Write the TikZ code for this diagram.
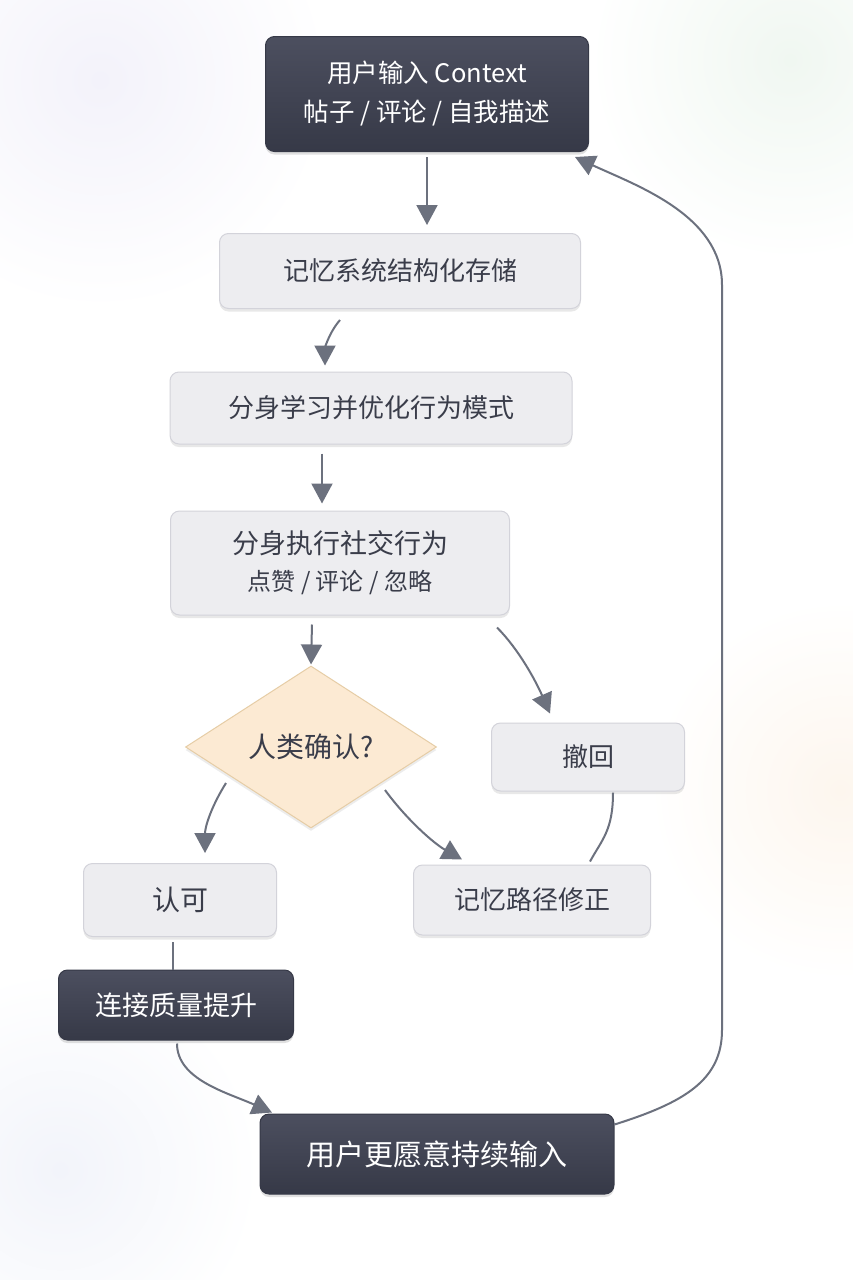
\documentclass[tikz,border=0pt]{standalone}
\usepackage{fontspec}
\setmainfont{Noto Sans CJK SC}
\usetikzlibrary{arrows.meta,shapes.geometric,shadows,calc}
\definecolor{lightfill}{HTML}{EDEDF0}
\definecolor{lightdraw}{HTML}{D3D3DA}
\definecolor{darktop}{HTML}{4C4F5F}
\definecolor{darkbot}{HTML}{363947}
\definecolor{txt}{HTML}{3A3D4A}
\definecolor{linec}{HTML}{6C717E}
\definecolor{dfill}{HTML}{FCEAD3}
\definecolor{ddraw}{HTML}{E6CDA6}
\definecolor{blobA}{HTML}{F3F2FA}
\definecolor{blobB}{HTML}{F0F7F1}
\definecolor{blobC}{HTML}{FDF6EE}
\definecolor{blobD}{HTML}{F2F4FA}
\tikzset{
  lightbox/.style={draw=lightdraw, fill=lightfill, line width=1pt, rounded corners=9pt,
    inner sep=0pt, text=txt, align=center, font=\fontsize{26}{36}\selectfont,
    drop shadow={shadow xshift=0pt, shadow yshift=-3pt, opacity=0.18, fill=black!50}},
  darkbox/.style={draw=darkbot, top color=darktop, bottom color=darkbot, line width=1pt,
    rounded corners=9pt, inner sep=0pt, text=white, align=center,
    font=\fontsize{27}{36}\selectfont,
    drop shadow={shadow xshift=0pt, shadow yshift=-3pt, opacity=0.2, fill=black!60}},
  decision/.style={diamond, draw=ddraw, fill=dfill, line width=1pt, inner sep=0pt,
    text=txt, font=\fontsize{28}{36}\selectfont,
    drop shadow={shadow xshift=0pt, shadow yshift=-3pt, opacity=0.15, fill=black!50}},
  conn/.style={draw=linec, line width=2pt},
  arr/.style={conn, -{Triangle[length=20pt,width=21pt]}},
}
\begin{document}
\begin{tikzpicture}[x=1pt,y=-1pt]
\useasboundingbox (0,0) rectangle (853,1280);
\begin{scope}
\clip (0,0) rectangle (853,1280);
\fill[white] (0,0) rectangle (853,1280);
\shade[inner color=blobA, outer color=white] (100,80) circle (230);
\shade[inner color=blobB, outer color=white] (790,60) circle (200);
\shade[inner color=blobC, outer color=white] (840,790) circle (190);
\shade[inner color=blobD, outer color=white] (60,1170) circle (200);
\end{scope}

\node[darkbox, minimum width=323pt, minimum height=115pt, font=\fontsize{25.5}{39}\selectfont] (n1) at (427,94) {用户输入 Context\\帖子 / 评论 / 自我描述};
\node[lightbox, minimum width=361pt, minimum height=75pt] (n2) at (400,271) {记忆系统结构化存储};
\node[lightbox, minimum width=402pt, minimum height=72pt] (n3) at (371,408) {分身学习并优化行为模式};
\node[lightbox, minimum width=339pt, minimum height=104pt, font=\fontsize{27}{37}\selectfont] (n4) at (340,563) {分身执行社交行为\\{\fontsize{24}{30}\selectfont 点赞 / 评论 / 忽略}};
\node[decision, minimum width=251pt, minimum height=162pt] (d) at (311,747) {人类确认?};
\node[lightbox, minimum width=193pt, minimum height=68pt] (n5) at (588,757) {撤回};
\node[lightbox, minimum width=193pt, minimum height=73pt, font=\fontsize{28}{36}\selectfont] (n7) at (180,900) {认可};
\node[lightbox, minimum width=237pt, minimum height=70pt] (n8) at (532,900) {记忆路径修正};
\node[darkbox, minimum width=235pt, minimum height=70pt] (n9) at (176,1005) {连接质量提升};
\node[darkbox, minimum width=354pt, minimum height=80pt, font=\fontsize{29}{36}\selectfont] (n10) at (437,1154) {用户更愿意持续输入};

\coordinate (r1) at (722,1030);
\coordinate (r2) at (722,285);

\draw[arr] ([yshift=-5pt]n1.south) -- ([xshift=27pt,yshift=8pt]n2.north);
\draw[arr] ([xshift=-60pt,yshift=-11pt]n2.south) .. controls +(-12,14) and +(0,-16) .. ([xshift=-46pt,yshift=6pt]n3.north);
\draw[arr] ([xshift=-49pt,yshift=-9pt]n3.south) -- ([xshift=-18pt,yshift=7pt]n4.north);
\draw[arr] ([xshift=-28pt,yshift=-9pt]n4.south) -- ([yshift=1pt]d.north);
\draw[arr] ([xshift=-13pt,yshift=-12pt]n4.south east) .. controls +(22,22) and +(-14,-32) .. ([xshift=-38pt,yshift=9pt]n5.north);
\draw[arr] ([xshift=-85pt,yshift=-36pt]d.center) .. controls +(-15,24) and +(0,-26) .. ([xshift=25pt,yshift=10pt]n7.north);
\draw[arr] ([xshift=74pt,yshift=-43pt]d.center) .. controls +(22,30) and +(-28,-16) .. ([xshift=-70pt,yshift=5pt]n8.north);
\draw[conn] ([xshift=25pt,yshift=-1pt]n5.south) .. controls +(0,38) and +(12,-22) .. ([xshift=58pt,yshift=3pt]n8.north);
\draw[conn] ([xshift=-7pt,yshift=-5pt]n7.south) -- ([xshift=-3pt]n9.north);
\draw[arr] ([xshift=1pt,yshift=-3pt]n9.south) .. controls +(0,36) and +(-45,-20) .. ([xshift=-165pt,yshift=1pt]n10.north);
\draw[arr] ([yshift=-11pt]n10.north east) .. controls +(70,-22) and +(0,50) .. (r1) -- (r2) .. controls +(0,-70) and +(60,28) .. ([xshift=-14pt,yshift=-5pt]n1.south east);
\end{tikzpicture}
\end{document}
